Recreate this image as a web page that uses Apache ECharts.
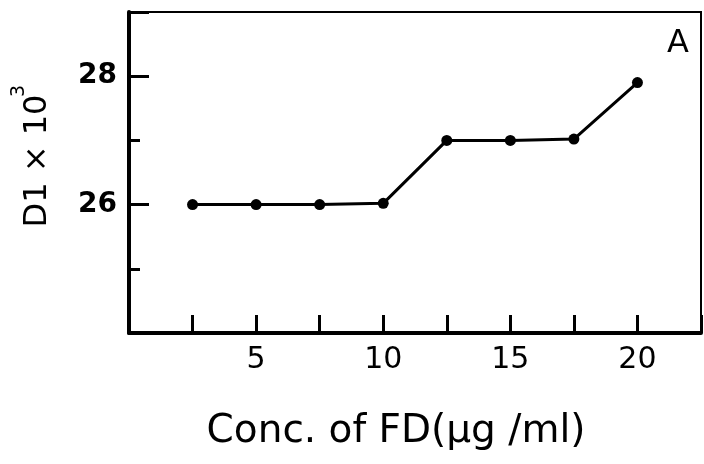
<!DOCTYPE html>
<html>
<head>
<meta charset="utf-8">
<script src="https://cdn.jsdelivr.net/npm/echarts@6/dist/echarts.min.js"></script>
<style>html,body{margin:0;padding:0;background:#fff}#c{width:704px;height:464px}</style>
</head>
<body>
<div id="c"></div>
<script>
const concentrations = [2.5, 5, 7.5, 10, 12.5, 15, 17.5, 20];
const d1Values = [26.0, 26.0, 26.0, 26.02, 27.0, 27.0, 27.02, 27.9];
const xTickLabels = [5, 10, 15, 20];
const yTickLabels = [26, 28];

const font = '"DejaVu Sans", sans-serif';
const chart = echarts.init(document.getElementById('c'));
chart.setOption({
  animation: false,
  backgroundColor: '#fff',
  grid: {left: 129, right: 1, top: 12, bottom: 131, show: true, borderColor: '#000', borderWidth: 2},
  graphic: [
    {type: 'text', x: 678, y: 44, style: {text: 'A', font: '32px ' + font, fill: '#000', align: 'center', verticalAlign: 'middle', textAlign: 'center', textVerticalAlign: 'middle'}},
    {type: 'text', x: 396, y: 432, style: {text: 'Conc. of FD(µg /ml)', font: '39px ' + font, fill: '#000', align: 'center', verticalAlign: 'middle', textAlign: 'center', textVerticalAlign: 'middle'}},
    {type: 'text', x: 38, y: 161, rotation: Math.PI / 2, style: {text: 'D1 × 10', font: '32px ' + font, fill: '#000', align: 'center', verticalAlign: 'middle', textAlign: 'center', textVerticalAlign: 'middle'}},
    {type: 'text', x: 19, y: 91, rotation: Math.PI / 2, style: {text: '3', font: '19px ' + font, fill: '#000', align: 'center', verticalAlign: 'middle', textAlign: 'center', textVerticalAlign: 'middle'}}
  ],
  xAxis: {
    type: 'value', min: 0, max: 22.5, interval: 2.5,
    axisLine: {lineStyle: {color: '#000', width: 4}},
    axisTick: {inside: true, length: 18, lineStyle: {color: '#000', width: 3}},
    splitLine: {show: false},
    axisLabel: {
      margin: 12, color: '#000', fontSize: 30, fontFamily: font,
      formatter: v => xTickLabels.includes(v) ? String(v) : ''
    }
  },
  yAxis: [{
    type: 'value', min: 24, max: 29, interval: 2,
    axisLine: {lineStyle: {color: '#000', width: 4}},
    axisTick: {inside: true, length: 20, lineStyle: {color: '#000', width: 3}},
    splitLine: {show: false},
    axisLabel: {
      margin: 12, color: '#000', fontSize: 28, fontWeight: 'bold', fontFamily: font,
      formatter: v => yTickLabels.includes(v) ? String(v) : ''
    }
  }, {
    type: 'value', min: 24, max: 29, interval: 1, position: 'left',
    axisLine: {show: false},
    axisTick: {inside: true, length: 11, lineStyle: {color: '#000', width: 3}},
    splitLine: {show: false},
    axisLabel: {show: false}
  }],
  series: [{
    type: 'line',
    data: concentrations.map((x, i) => [x, d1Values[i]]),
    symbol: 'circle', symbolSize: 11,
    lineStyle: {color: '#000', width: 3},
    itemStyle: {color: '#000'}
  }]
});
</script>
</body>
</html>
